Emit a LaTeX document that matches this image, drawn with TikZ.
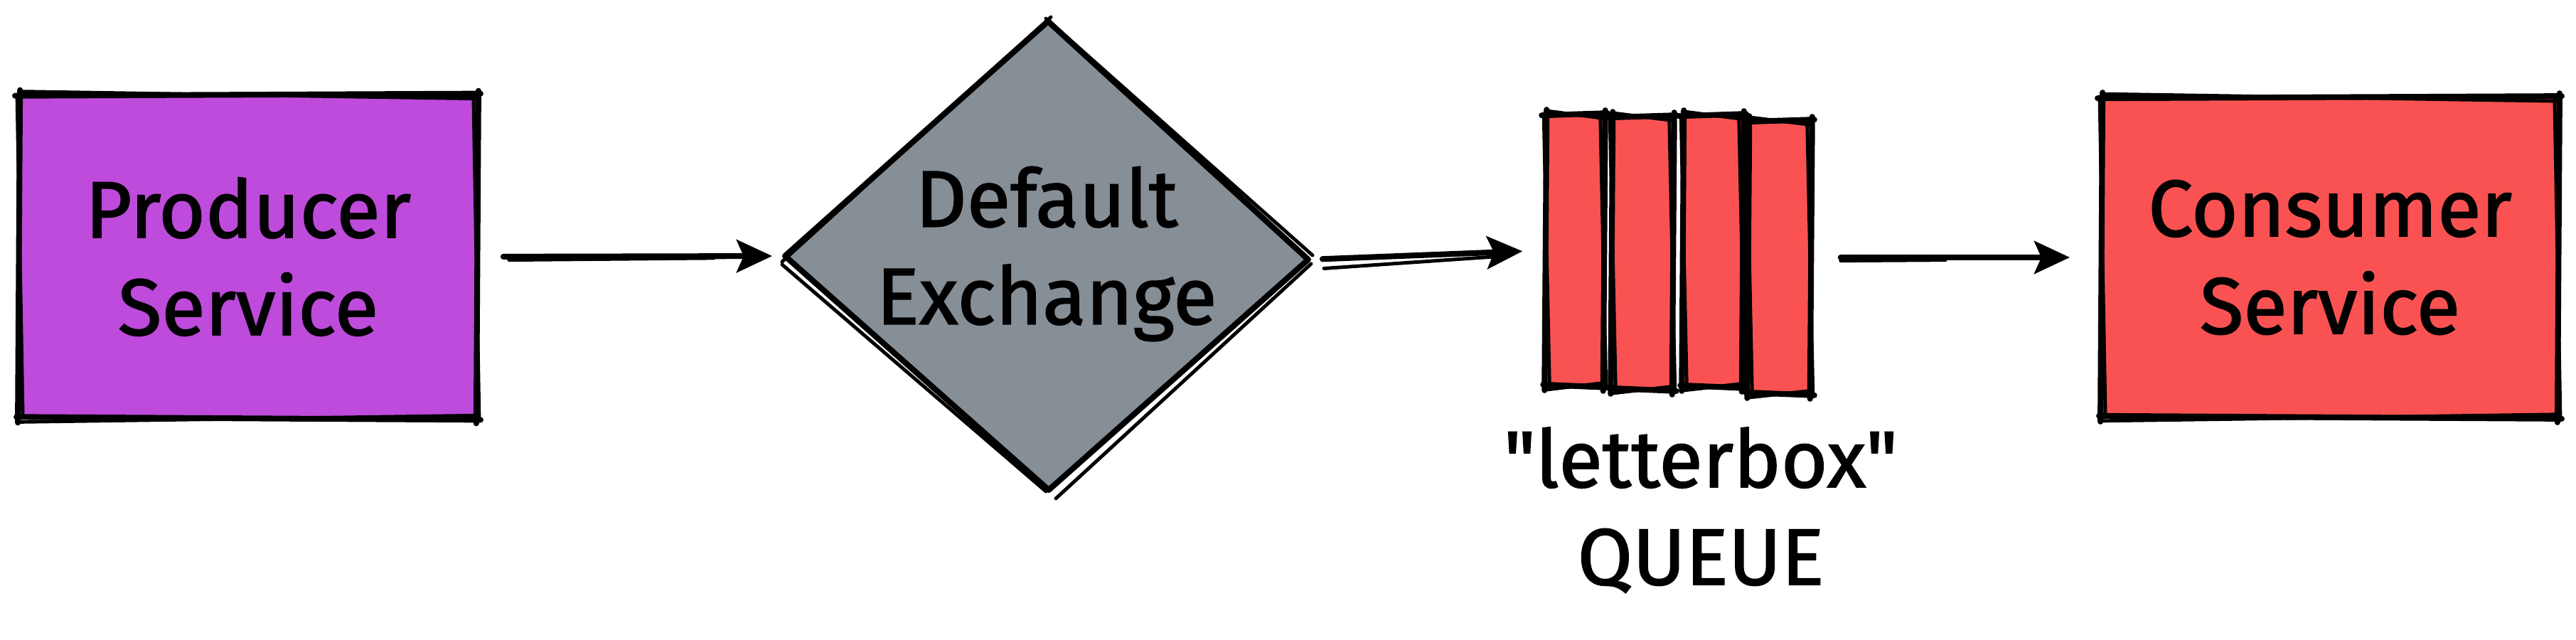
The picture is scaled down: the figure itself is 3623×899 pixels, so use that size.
\documentclass[tikz,border=0pt]{standalone}
\usepackage{fontspec}
\setmainfont{Fira Sans}[FakeBold=1.5]
\newfontfamily\qfont{Fira Sans}[FakeBold=1.5]
\usetikzlibrary{arrows.meta}
\definecolor{grape}{HTML}{BE4BDB}
\definecolor{grayfill}{HTML}{868E96}
\definecolor{redfill}{HTML}{FA5252}
\tikzset{
  sk/.style={line width=2.3pt, line cap=round, line join=round, black},
  skb/.style={line width=1.4pt, line cap=round, black},
  txt/.style={align=center, inner sep=0pt, font=\fontsize{32}{39}\selectfont},
  boxnode/.style={txt, fill=#1},
  arr/.style={sk, -{Stealth[length=0.5cm,width=0.46cm,inset=0.1cm]}},
}
\newcommand{\skrect}[1]{%
  \draw[sk]  ([shift={(-6,2)}]#1.north west) -- ([shift={(5,-1)}]#1.north east);
  \draw[skb] ([shift={(3,-4)}]#1.north west) -- ([shift={(-2,6)}]#1.north east);
  \draw[sk]  ([shift={(2,-5)}]#1.north east) -- ([shift={(-1,6)}]#1.south east);
  \draw[skb] ([shift={(-5,3)}]#1.north east) -- ([shift={(3,-3)}]#1.south east);
  \draw[sk]  ([shift={(5,1)}]#1.south east) -- ([shift={(-4,-3)}]#1.south west);
  \draw[skb] ([shift={(-3,-5)}]#1.south east) -- ([shift={(2,4)}]#1.south west);
  \draw[sk]  ([shift={(-2,5)}]#1.south west) -- ([shift={(1,-6)}]#1.north west);
  \draw[skb] ([shift={(5,-2)}]#1.south west) -- ([shift={(-3,4)}]#1.north west);
}
\begin{document}
\begin{tikzpicture}[x=0.01cm,y=-0.01cm]
\useasboundingbox (0,0) rectangle (3623,899);

% Producer
\node[boxnode=grape, minimum width=6.42cm, minimum height=4.55cm] (prod) at (349,361) {Producer\\Service};
\skrect{prod}

% Default exchange diamond
\coordinate (exL) at (1104,360);
\coordinate (exT) at (1474,30);
\coordinate (exR) at (1840,365);
\coordinate (exB) at (1475,689);
\fill[grayfill] (exL) -- (exT) -- (exR) -- (exB) -- cycle;
\draw[sk] (exL) -- (exT) -- (exR) -- (exB) -- cycle;
\draw[skb] ([shift={(-4,8)}]exL) -- ([shift={(4,-6)}]exT);
\draw[skb] ([shift={(-3,-4)}]exT) -- ([shift={(6,-6)}]exR);
\draw[skb] ([shift={(4,6)}]exR) -- ([shift={(10,12)}]exB);
\draw[skb] ([shift={(-4,2)}]exB) -- ([shift={(-4,12)}]exL);
\node[txt] (exch) at (1472,357) {Default\\Exchange};

% Queue
\node[fill=redfill, inner sep=0pt, minimum width=0.80cm, minimum height=3.82cm] (q1) at (2215,352) {};
\node[fill=redfill, inner sep=0pt, minimum width=0.84cm, minimum height=3.84cm] (q2) at (2310,356) {};
\node[fill=redfill, inner sep=0pt, minimum width=0.82cm, minimum height=3.82cm] (q3) at (2409,353) {};
\node[fill=redfill, inner sep=0pt, minimum width=0.86cm, minimum height=3.84cm] (q4) at (2503,362) {};
\skrect{q1}
\skrect{q2}
\skrect{q3}
\skrect{q4}
\node[txt, anchor=north] (qlabel) at (2392,600) {{\qfont"}letterbox{\qfont"}\\QUEUE};

% Consumer
\node[boxnode=redfill, minimum width=6.40cm, minimum height=4.50cm] (cons) at (3277,362) {Consumer\\Service};
\skrect{cons}

% Arrows
\draw[arr, shorten <=0.37cm, shorten >=0.18cm] (prod.east) -- (exL);
\draw[skb, shorten <=0.45cm, shorten >=1.0cm] ([yshift=-0.05cm]prod.east) -- ([yshift=-0.02cm]exL);
\draw[arr, shorten <=0.20cm, shorten >=0.33cm] (exR) -- (q1.west);
\draw[skb, shorten <=0.22cm, shorten >=0.6cm] ([yshift=-0.14cm]exR) -- ([yshift=-0.04cm]q1.west);
\draw[arr, shorten <=0.42cm, shorten >=0.45cm] (q4.east) -- (cons.west);
\draw[skb, shorten <=0.42cm, shorten >=2.2cm] ([yshift=-0.05cm]q4.east) -- ([yshift=-0.02cm]cons.west);
\end{tikzpicture}
\end{document}
